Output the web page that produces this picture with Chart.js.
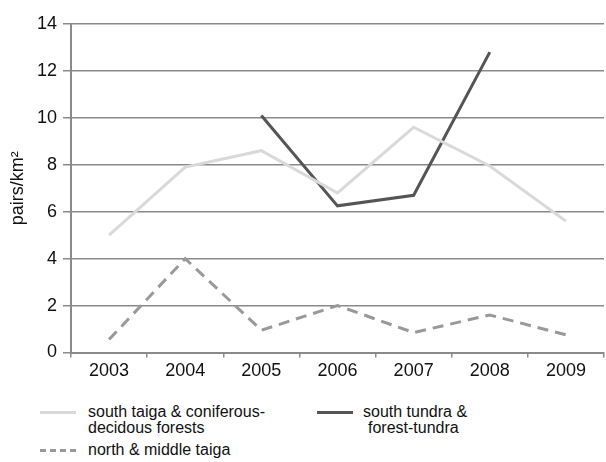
<!DOCTYPE html>
<html>
<head>
<meta charset="utf-8">
<script src="https://cdn.jsdelivr.net/npm/chart.js@4.4.1/dist/chart.umd.min.js"></script>
<style>
  html, body { margin: 0; padding: 0; background: #fff; }
  #wrap { position: relative; width: 606px; height: 462px; font-family: "Liberation Sans", Arial, sans-serif; }
  #c { position: absolute; left: 0; top: 0; }
  .lg { position: absolute; font-size: 16px; line-height: 16px; color: #111; white-space: nowrap; }
  .sw { position: absolute; width: 36px; height: 0; }
</style>
</head>
<body>
<div id="wrap">
  <canvas id="c" width="606" height="390"></canvas>
  <div class="sw" style="left:40px; top:411px; border-top:3px solid #d9d9d9;"></div>
  <div class="lg" style="left:88px; top:404px;">south taiga &amp; coniferous-<br>decidous forests</div>
  <div class="sw" style="left:317px; top:411px; border-top:3px solid #555555;"></div>
  <div class="lg" style="left:363px; top:404px;">south tundra &amp;<br><span style="padding-left:5px">forest-tundra</span></div>
  <div class="sw" style="left:40px; top:449px; border-top:3px dashed #999999;"></div>
  <div class="lg" style="left:88px; top:442px;">north &amp; middle taiga</div>
</div>
<script>
const years = ["2003", "2004", "2005", "2006", "2007", "2008", "2009"];
const southTaiga = [5.0, 7.9, 8.6, 6.8, 9.6, 7.95, 5.6];
const southTundra = [null, null, 10.1, 6.25, 6.7, 12.8, null];
const northMiddleTaiga = [0.55, 4.0, 0.95, 2.0, 0.85, 1.6, 0.75];
const yTicks = [0, 2, 4, 6, 8, 10, 12, 14];
const seriesNames = ["south taiga & coniferous-decidous forests", "south tundra & forest-tundra", "north & middle taiga"];

const FONT = "'Liberation Sans', Arial, sans-serif";
const GRID = "#8a8a8a";

new Chart(document.getElementById("c"), {
  type: "line",
  data: {
    labels: years,
    datasets: [
      { label: seriesNames[0], data: southTaiga, borderColor: "#d9d9d9", borderWidth: 3, pointRadius: 0, tension: 0, fill: false },
      { label: seriesNames[1], data: southTundra, borderColor: "#555555", borderWidth: 3, pointRadius: 0, tension: 0, fill: false, spanGaps: false },
      { label: seriesNames[2], data: northMiddleTaiga, borderColor: "#999999", borderWidth: 3, borderDash: [11, 7], pointRadius: 0, tension: 0, fill: false }
    ]
  },
  options: {
    responsive: false,
    animation: false,
    layout: { padding: { left: 0, right: 2, top: 24, bottom: 0 } },
    plugins: { legend: { display: false }, tooltip: { enabled: false } },
    scales: {
      x: {
        type: "category",
        offset: true,
        grid: { display: true, drawOnChartArea: false, drawTicks: true, tickLength: 5, color: GRID, lineWidth: 1.5, offset: true },
        border: { display: true, color: GRID, width: 2 },
        ticks: { color: "#111", font: { family: FONT, size: 18 }, padding: 3, maxRotation: 0 },
        afterFit: (s) => { s.height = 37.5; }
      },
      y: {
        min: 0, max: 14,
        afterBuildTicks: (s) => { s.ticks = yTicks.map(v => ({ value: v })); },
        grid: { color: GRID, lineWidth: 1.5, drawTicks: true, tickLength: 8 },
        border: { display: true, color: GRID, width: 2 },
        ticks: { color: "#111", font: { family: FONT, size: 18 }, padding: 6 },
        title: { display: true, text: "pairs/km²", color: "#111", font: { family: FONT, size: 18 }, padding: { top: 7, bottom: 0 } },
        afterFit: (s) => { s.width = 71; }
      }
    }
  }
});
</script>
</body>
</html>
